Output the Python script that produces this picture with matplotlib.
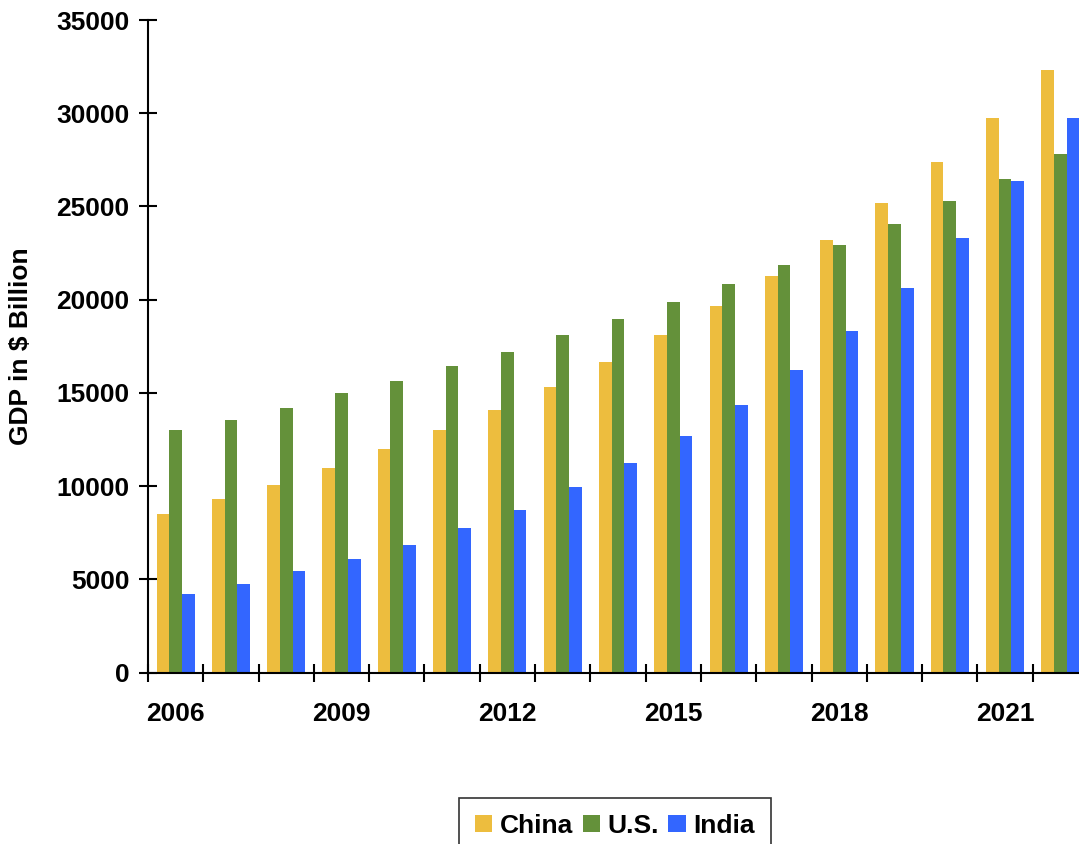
import matplotlib.pyplot as plt
import numpy as np

plt.rcParams['font.family'] = ['Liberation Sans', 'DejaVu Sans']
plt.rcParams['font.weight'] = 'bold'

years = list(range(2006, 2023))
china = [8530, 9340, 10090, 11000, 11970, 13000, 14070, 15300, 16650, 18100,
         19660, 21270, 23210, 25200, 27400, 29720, 32300]
us = [13000, 13530, 14180, 15000, 15630, 16430, 17190, 18100, 18960, 19880,
      20840, 21870, 22940, 24070, 25310, 26490, 27830]
india = [4230, 4770, 5470, 6110, 6870, 7780, 8750, 9980, 11220, 12670,
         14340, 16220, 18320, 20630, 23320, 26380, 29720]
label_years = [2006, 2009, 2012, 2015, 2018, 2021]

c_china = '#EDBD3E'
c_us = '#64913A'
c_india = '#3366FF'

fig = plt.figure(figsize=(10.79, 8.44), dpi=100)
ax = fig.add_axes([148 / 1079, 171.3 / 844, 940 / 1079, 652.7 / 844])

x = np.arange(len(years)) + 0.5
w = 0.23
ax.bar(x - w, china, w, color=c_china, label='China')
ax.bar(x, us, w, color=c_us, label='U.S.')
ax.bar(x + w, india, w, color=c_india, label='India')

ax.set_xlim(0, len(years))
ax.set_ylim(0, 35000)
ax.set_yticks(np.arange(0, 35001, 5000))

# labels sit on group centres, tick marks on group boundaries
ax.set_xticks([years.index(y) + 0.5 for y in label_years])
ax.set_xticklabels([str(y) for y in label_years])
ax.set_xticks(np.arange(0, len(years) + 1), minor=True)
ax.tick_params(axis='x', which='major', length=0, pad=21, labelsize=19)
ax.tick_params(axis='x', which='minor', direction='inout', length=13, width=1.5)
ax.tick_params(axis='y', direction='inout', length=13, width=1.5, pad=7, labelsize=19)

for s in ['top', 'right']:
    ax.spines[s].set_visible(False)
for s in ['left', 'bottom']:
    ax.spines[s].set_linewidth(1.5)
    ax.spines[s].set_color('black')

ax.set_ylabel('GDP in $ Billion', fontsize=19, fontweight='bold')
ax.yaxis.set_label_coords(-0.122, 0.5)

leg = fig.legend(loc='upper center', bbox_to_anchor=(615 / 1079, 1 - 798 / 844),
                 ncol=3, fontsize=19, frameon=True, fancybox=False,
                 edgecolor='black', handlelength=0.65, handleheight=0.65,
                 handletextpad=0.3, columnspacing=0.35, borderpad=0.6,
                 borderaxespad=0)
leg.get_frame().set_linewidth(1.2)

fig.savefig('out.png', dpi=100)
